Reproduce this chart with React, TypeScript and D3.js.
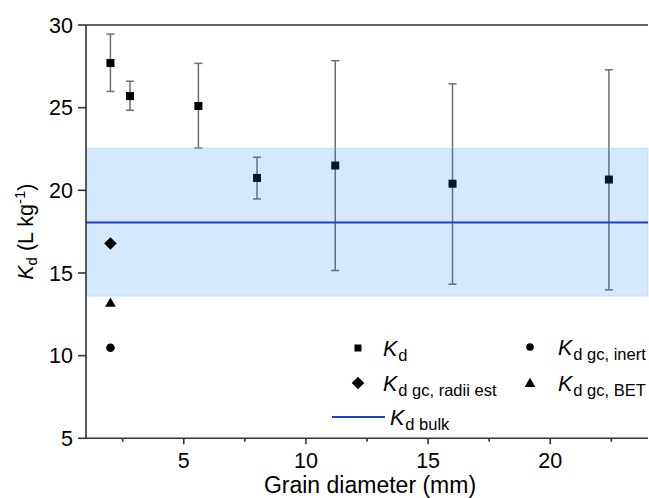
import React from "react";
import * as d3 from "d3";

// Measured Kd per grain diameter
const diameters = [2.0, 2.8, 5.6, 8.0, 11.2, 16.0, 22.4];
const kdValues = [27.7, 25.7, 25.1, 20.75, 21.5, 20.4, 20.65];
const kdUpper = [29.45, 26.6, 27.68, 22.0, 27.84, 26.44, 27.29];
const kdLower = [25.98, 24.84, 22.56, 19.48, 15.15, 14.32, 13.98];

// Grain-coating estimates at 2 mm
const gcDiameter = [2.0];
const gcRadiiEst = [16.78];
const gcBET = [13.2];
const gcInert = [10.48];

// Bulk Kd with range
const bulkKd = [18.05];
const bulkRange = [13.6, 22.55];

const xTicks = [5, 10, 15, 20];
const xMinorTicks = [2.5, 7.5, 12.5, 17.5, 22.5];
const yTicks = [5, 10, 15, 20, 25, 30];

const W = 649;
const H = 498;
const FONT = "Arial, 'Liberation Sans', sans-serif";

export default function App() {
  const x = d3.scaleLinear().domain([1, 24]).range([86, 648]);
  const y = d3.scaleLinear().domain([5, 30]).range([438.3, 25]);

  const x0 = x(1);
  const x1 = x(24);
  const yb = y(5);
  const yt = y(30);

  const sq = 8;
  const cap = 4;

  const diamond = d3.symbol().type(d3.symbolDiamond2).size(100)()!;
  const triangle = d3.symbol().type(d3.symbolTriangle).size(50)()!;

  const legendItem = (
    my: number,
    marker: React.ReactNode,
    tx: number,
    sub: string
  ) => (
    <g>
      {marker}
      <text x={tx} y={my + 8} fontFamily={FONT} fontSize={21.5} fill="#000">
        <tspan fontStyle="italic">K</tspan>
        <tspan fontSize={16.5} dy={5} dx={1}>
          {sub}
        </tspan>
      </text>
    </g>
  );

  return (
    <svg
      width={W}
      height={H}
      style={{ position: "absolute", left: 0, top: 0, background: "#fff" }}
    >
      {/* error bars */}
      {diameters.map((d, i) => (
        <g key={"e" + i} stroke="#6e6e6e" strokeWidth={1.5}>
          <line x1={x(d)} x2={x(d)} y1={y(kdUpper[i])} y2={y(kdLower[i])} />
          <line x1={x(d) - cap} x2={x(d) + cap} y1={y(kdUpper[i])} y2={y(kdUpper[i])} />
          <line x1={x(d) - cap} x2={x(d) + cap} y1={y(kdLower[i])} y2={y(kdLower[i])} />
        </g>
      ))}
      {/* squares */}
      {diameters.map((d, i) => (
        <rect
          key={"s" + i}
          x={x(d) - sq / 2}
          y={y(kdValues[i]) - sq / 2}
          width={sq}
          height={sq}
          fill="#000"
        />
      ))}
      {/* bulk band */}
      <rect
        x={x0}
        y={y(bulkRange[1])}
        width={x1 - x0}
        height={y(bulkRange[0]) - y(bulkRange[1])}
        fill="rgb(30,130,240)"
        fillOpacity={0.18}
        stroke="rgb(150,200,250)"
        strokeOpacity={0.4}
        strokeWidth={1}
      />
      <line x1={x0} x2={x1} y1={y(bulkKd[0])} y2={y(bulkKd[0])} stroke="#1a3fd6" strokeWidth={2} />
      {/* gc markers */}
      {gcDiameter.map((d, i) => (
        <g key={"gc" + i} fill="#000">
          <path d={diamond} transform={`translate(${x(d)},${y(gcRadiiEst[i])})`} />
          <path d={triangle} transform={`translate(${x(d)},${y(gcBET[i]) + 1})`} />
          <circle cx={x(d)} cy={y(gcInert[i])} r={4.3} />
        </g>
      ))}

      {/* axes */}
      <g stroke="#333" strokeWidth={1.6}>
        <line x1={x0} x2={x0} y1={yt} y2={yb} />
        <line x1={x0} x2={x1} y1={yb} y2={yb} />
        <line x1={x0} x2={x1} y1={yt} y2={yt} />
        {yTicks.map((t) => (
          <line key={"yt" + t} x1={x0 - 8} x2={x0} y1={y(t)} y2={y(t)} />
        ))}
        {xTicks.map((t) => (
          <line key={"xt" + t} x1={x(t)} x2={x(t)} y1={yb} y2={yb + 6} />
        ))}
        {xMinorTicks.map((t) => (
          <line key={"xm" + t} x1={x(t)} x2={x(t)} y1={yb} y2={yb + 3.5} />
        ))}
      </g>
      {yTicks.map((t) => (
        <text
          key={"yl" + t}
          x={73}
          y={y(t) + 7.8}
          textAnchor="end"
          fontFamily={FONT}
          fontSize={21.5}
          fill="#000"
        >
          {t}
        </text>
      ))}
      {xTicks.map((t) => (
        <text
          key={"xl" + t}
          x={x(t)}
          y={468}
          textAnchor="middle"
          fontFamily={FONT}
          fontSize={21.5}
          fill="#000"
        >
          {t}
        </text>
      ))}
      <text
        x={(x0 + x1) / 2 + 3}
        y={493}
        textAnchor="middle"
        fontFamily={FONT}
        fontSize={23}
        fill="#000"
      >
        Grain diameter (mm)
      </text>
      <text
        transform={`translate(33,${(yt + yb) / 2}) rotate(-90)`}
        textAnchor="middle"
        fontFamily={FONT}
        fontSize={21.5}
        fill="#000"
      >
        <tspan fontStyle="italic">K</tspan>
        <tspan fontSize={15} dy={4}>d</tspan>
        <tspan dy={-4}> (L kg</tspan>
        <tspan fontSize={15} dy={-8}>-1</tspan>
        <tspan dy={8}>)</tspan>
      </text>

      {/* legend */}
      {legendItem(
        348,
        <rect x={358 - 3.5} y={348 - 3.5} width={7} height={7} fill="#000" />,
        383,
        "d"
      )}
      {legendItem(
        383,
        <path d={diamond} transform="translate(358,383)" fill="#000" />,
        383,
        "d gc, radii est"
      )}
      {legendItem(
        347,
        <circle cx={530} cy={347} r={3.8} fill="#000" />,
        558,
        "d gc, inert"
      )}
      {legendItem(
        383,
        <path d={triangle} transform="translate(530,384)" fill="#000" />,
        558,
        "d gc, BET"
      )}
      {legendItem(
        417,
        <line x1={332} x2={385} y1={417} y2={417} stroke="#1a3fd6" strokeWidth={2} />,
        390,
        "d bulk"
      )}
    </svg>
  );
}
